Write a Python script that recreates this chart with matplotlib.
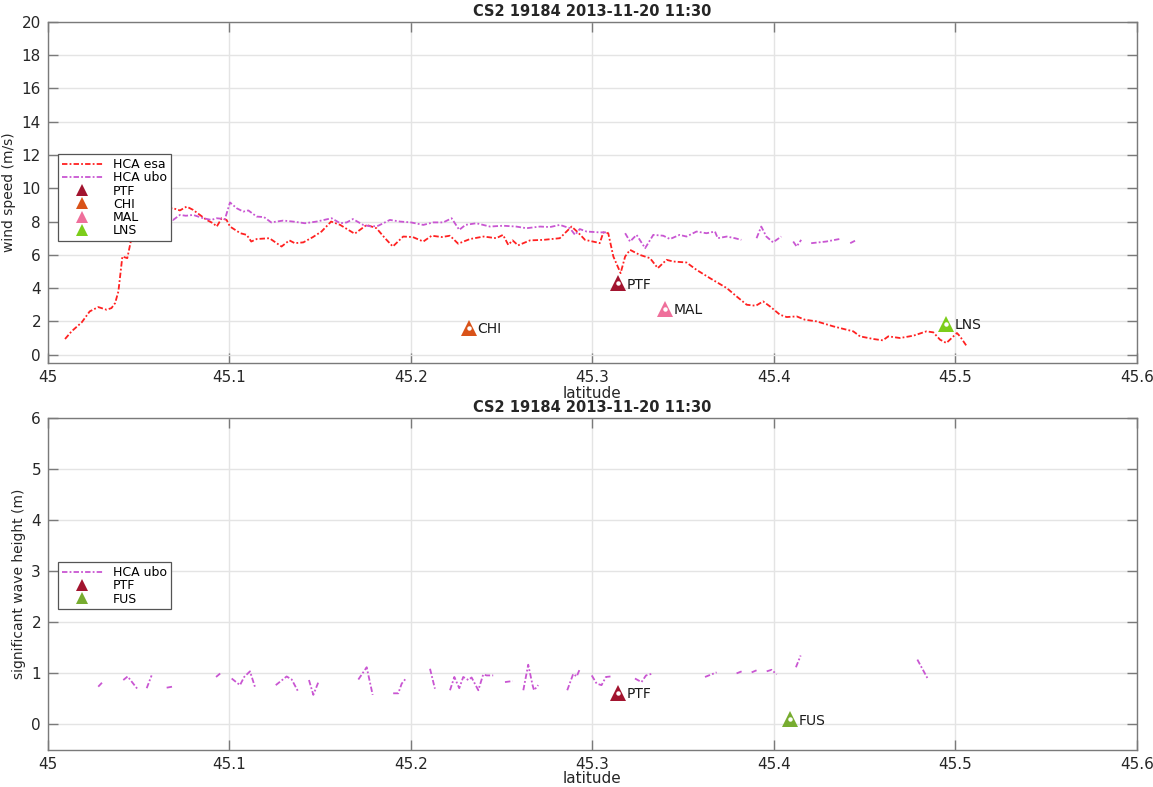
import numpy as np
import matplotlib
matplotlib.use("Agg")
import matplotlib.pyplot as plt

nan = np.nan

TITLE = "CS2 19184 2013-11-20 11:30"

# HCA esa wind speed along track (latitude, m/s)
esa_lat = [45.0094, 45.013, 45.0186, 45.023, 45.0277, 45.0323, 45.035, 45.037, 45.0388,
           45.041, 45.0437, 45.046, 45.048, 45.0507, 45.056, 45.059, 45.0645, 45.069,
           45.0727, 45.0764, 45.08, 45.0837, 45.0874, 45.091, 45.093, 45.0957, 45.0984,
           45.1003, 45.106, 45.1095, 45.112, 45.115, 45.122, 45.1287, 45.133, 45.136,
           45.1407, 45.146, 45.1507, 45.156, 45.161, 45.1655, 45.169, 45.1756, 45.181,
           45.1857, 45.19, 45.1957, 45.201, 45.2068, 45.2114, 45.217, 45.2215, 45.226,
           45.2325, 45.24, 45.247, 45.2507, 45.2536, 45.256, 45.259, 45.2656, 45.273,
           45.282, 45.2857, 45.2885, 45.292, 45.2959, 45.3023, 45.304, 45.306, 45.3087,
           45.3115, 45.3155, 45.318, 45.3207, 45.326, 45.3317, 45.336, 45.3408, 45.3444,
           45.3518, 45.3573, 45.3647, 45.374, 45.3794, 45.385, 45.390, 45.394, 45.3978,
           45.4033, 45.407, 45.4125, 45.417, 45.4235, 45.4327, 45.44, 45.4437, 45.4474,
           45.4548, 45.46, 45.463, 45.4694, 45.4768, 45.484, 45.4878, 45.4915, 45.495,
           45.5008, 45.5025, 45.506]
esa_wind = [0.94, 1.4, 1.94, 2.6, 2.86, 2.7, 2.8, 3.1, 3.8,
            5.9, 5.8, 7.0, 8.1, 8.7, 8.75, 8.8, 8.8, 8.8,
            8.67, 8.9, 8.7, 8.4, 8.1, 7.9, 7.7, 8.2, 8.1,
            7.7, 7.3, 7.2, 6.8, 6.95, 7.0, 6.5, 6.87, 6.7,
            6.75, 7.07, 7.4, 8.0, 7.8, 7.5, 7.27, 7.8, 7.6,
            7.0, 6.5, 7.1, 7.07, 6.8, 7.15, 7.07, 7.15, 6.67,
            6.95, 7.1, 7.0, 7.2, 6.6, 6.87, 6.57, 6.87, 6.9,
            7.0, 7.4, 7.7, 7.35, 6.9, 6.75, 6.7, 7.35, 7.3,
            5.9, 4.9, 5.9, 6.3, 6.0, 5.8, 5.2, 5.7, 5.6,
            5.54, 5.1, 4.6, 4.0, 3.5, 3.0, 2.94, 3.2, 2.9,
            2.4, 2.26, 2.3, 2.1, 2.0, 1.7, 1.5, 1.4, 1.1,
            0.94, 0.86, 1.1, 1.0, 1.14, 1.4, 1.34, 0.9, 0.7,
            1.3, 1.1, 0.54]

# HCA ubo wind speed (gaps where no valid retrieval)
ubo_lat = [45.0516, 45.056, 45.059, 45.0636, 45.066, 45.069, 45.0727, 45.076, 45.08,
           45.0856, 45.09, 45.093, 45.0975, 45.1003, 45.104, 45.1076, 45.1104, 45.115,
           45.119, 45.123, 45.1296, 45.135, 45.1416, 45.148, 45.1563, 45.161, 45.1646,
           45.168, 45.1737, 45.1783, 45.182, 45.1884, 45.194, 45.2, 45.2068, 45.2123,
           45.2178, 45.2224, 45.2266, 45.23, 45.236, 45.2435, 45.2507, 45.258, 45.2636,
           45.2711, 45.2766, 45.282, 45.2876, 45.2904, 45.293, 45.2968, 45.304, 45.3087,
           45.313,
           45.318, 45.3207, 45.3243, 45.329, 45.3335, 45.339, 45.3427, 45.348, 45.3518,
           45.3573, 45.3628, 45.3675, 45.369, 45.374, 45.3785, 45.382,
           45.386,
           45.3904, 45.393, 45.3958, 45.3995, 45.404,
           45.407,
           45.4106, 45.4125, 45.415,
           45.418,
           45.4205, 45.4288, 45.436,
           45.439,
           45.442, 45.4447]
ubo_wind = [8.35, 8.4, 8.5, 8.6, 8.4, 8.1, 8.4, 8.35, 8.4,
            8.2, 8.1, 8.2, 8.15, 9.15, 8.8, 8.6, 8.67, 8.3,
            8.27, 7.95, 8.06, 8.0, 7.9, 8.0, 8.2, 7.9, 7.95,
            8.15, 7.8, 7.7, 7.75, 8.1, 8.0, 7.95, 7.8, 7.95,
            7.95, 8.2, 7.5, 7.8, 7.9, 7.7, 7.75, 7.7, 7.6,
            7.7, 7.67, 7.8, 7.6, 7.2, 7.55, 7.4, 7.35, 7.35,
            nan,
            7.3, 6.8, 7.2, 6.4, 7.2, 7.15, 6.95, 7.2, 7.1,
            7.4, 7.3, 7.4, 7.0, 7.1, 7.0, 6.9,
            nan,
            7.0, 7.7, 7.1, 6.75, 7.1,
            nan,
            6.8, 6.5, 6.9,
            nan,
            6.7, 6.8, 6.95,
            nan,
            6.7, 6.85]

# HCA ubo significant wave height, mostly short fragments
swh_lat = [45.0277, 45.0301, nan,
           45.0415, 45.0439, 45.0494, nan,
           45.0544, 45.0571, nan,
           45.0654, 45.0685, nan,
           45.0926, 45.0953, nan,
           45.1012, 45.1058, 45.1081, 45.1113, 45.114, nan,
           45.1255, 45.1315, 45.1343, 45.1379, nan,
           45.1438, 45.1462, 45.149, nan,
           45.171, 45.1756, 45.1789, nan,
           45.1902, 45.193, 45.1949, 45.1972, nan,
           45.2105, 45.2132, nan,
           45.2215, 45.2239, 45.2266, 45.2288, 45.2316, 45.2334, 45.2371, 45.2398,
           45.2417, 45.2453, nan,
           45.2518, 45.256, nan,
           45.2619, 45.2646, 45.267, 45.2678, 45.2701, nan,
           45.2861, 45.2894, 45.2913, 45.2931, nan,
           45.2996, 45.3023, 45.305, 45.3074, 45.31, nan,
           45.3234, 45.327, 45.3295, 45.3335, nan,
           45.362, 45.3684, nan,
           45.3794, 45.3822, nan,
           45.3877, 45.3904, nan,
           45.396, 45.3987, 45.4015, nan,
           45.4121, 45.4147, nan,
           45.479, 45.4845]
swh = [0.74, 0.83, nan,
       0.87, 0.94, 0.69, nan,
       0.71, 0.96, nan,
       0.72, 0.74, nan,
       0.93, 1.01, nan,
       0.9, 0.77, 0.93, 1.04, 0.74, nan,
       0.77, 0.94, 0.88, 0.64, nan,
       0.87, 0.58, 0.83, nan,
       0.88, 1.12, 0.58, nan,
       0.61, 0.61, 0.80, 0.90, nan,
       1.09, 0.7, nan,
       0.67, 0.93, 0.71, 0.93, 0.87, 0.92, 0.67, 0.98,
       0.96, 0.96, nan,
       0.83, 0.85, nan,
       0.67, 1.17, 0.77, 0.67, 0.77, nan,
       0.67, 0.99, 0.94, 1.09, nan,
       0.96, 0.80, 0.77, 0.93, 0.94, nan,
       0.9, 0.83, 0.96, 1.0, nan,
       0.93, 1.02, nan,
       1.0, 1.04, nan,
       1.02, 1.06, nan,
       1.04, 1.07, 0.98, nan,
       1.12, 1.35, nan,
       1.27, 0.91]

# in-situ stations: name, latitude, value, colour
wind_stations = ["PTF", "CHI", "MAL", "LNS"]
wind_st_lat = [45.314, 45.232, 45.34, 45.495]
wind_st_val = [4.3, 1.6, 2.75, 1.85]
wind_st_col = ["#a2142f", "#d95319", "#ef6f9b", "#7ccd1a"]

wave_stations = ["PTF", "FUS"]
wave_st_lat = [45.314, 45.409]
wave_st_val = [0.62, 0.1]
wave_st_col = ["#a2142f", "#77ac30"]

ESA_COLOR = "#ff2121"
UBO_COLOR = "#c956d2"
AXIS_GREY = "#7a7a7a"
TEXT_GREY = "#262626"
DASHDOT = (0, (3, 1.2, 1, 1.2))


def style_axes(ax, ylim, yticks, ylabel, xlabelpad):
    ax.set_xlim(45, 45.6)
    ax.set_ylim(*ylim)
    ax.set_xticks(np.arange(45, 45.61, 0.1))
    ax.set_xticklabels(["45", "45.1", "45.2", "45.3", "45.4", "45.5", "45.6"])
    ax.set_yticks(yticks)
    ax.grid(True, color="#e4e4e4", linewidth=1.0)
    ax.set_axisbelow(True)
    for sp in ax.spines.values():
        sp.set_color(AXIS_GREY)
        sp.set_linewidth(1.0)
    ax.tick_params(direction="in", length=7, width=1.0, color=AXIS_GREY,
                   labelsize=11, labelcolor=TEXT_GREY, top=True, right=True, pad=5)
    ax.set_xlabel("latitude", fontsize=11, color=TEXT_GREY, labelpad=xlabelpad)
    ax.set_ylabel(ylabel, fontsize=10, color=TEXT_GREY, labelpad=4)
    ax.set_title(TITLE, fontsize=10.5, fontweight="bold", color=TEXT_GREY, pad=4)


def plot_stations(ax, names, lats, vals, cols):
    handles = []
    for name, x, y, c in zip(names, lats, vals, cols):
        h, = ax.plot(x, y, marker="^", markersize=11, color=c, linestyle="none",
                     markeredgewidth=0, label=name, zorder=4)
        ax.plot(x, y, marker="o", markersize=2.2, color="white", linestyle="none", zorder=5)
        ax.annotate(name, (x, y), xytext=(6, -1), textcoords="offset points",
                    fontsize=10, color="#1a1a1a", va="center", ha="left")
        handles.append(h)
    return handles


def add_legend(ax, handles, anchor_y):
    leg = ax.legend(handles=handles, loc="upper left", bbox_to_anchor=(0.009, anchor_y),
                    fontsize=9, frameon=True, fancybox=False, framealpha=1,
                    edgecolor="#555555", borderpad=0.3, labelspacing=0.02,
                    markerscale=0.85, handlelength=3.3, handletextpad=0.8,
                    borderaxespad=0)
    leg.get_frame().set_linewidth(0.9)
    return leg


fig = plt.figure(figsize=(11.53, 7.87), dpi=100)
ax1 = fig.add_axes([0.0416, 0.5388, 0.9445, 0.4333])
ax2 = fig.add_axes([0.0416, 0.0470, 0.9445, 0.4219])

# wind speed panel
l1, = ax1.plot(esa_lat, esa_wind, color=ESA_COLOR, linestyle=DASHDOT,
               linewidth=1.3, label="HCA esa", zorder=3)
l2, = ax1.plot(ubo_lat, ubo_wind, color=UBO_COLOR, linestyle=DASHDOT,
               linewidth=1.3, label="HCA ubo", zorder=3)
h1 = plot_stations(ax1, wind_stations, wind_st_lat, wind_st_val, wind_st_col)
style_axes(ax1, (-0.5, 20), np.arange(0, 21, 2), "wind speed (m/s)", 1)
add_legend(ax1, [l1, l2] + h1, 0.612)

# wave height panel
l3, = ax2.plot(swh_lat, swh, color=UBO_COLOR, linestyle=DASHDOT,
               linewidth=1.3, label="HCA ubo", zorder=3)
h2 = plot_stations(ax2, wave_stations, wave_st_lat, wave_st_val, wave_st_col)
style_axes(ax2, (-0.5, 6), np.arange(0, 7, 1), "significant wave height (m)", -1)
add_legend(ax2, [l3] + h2, 0.565)

fig.savefig("out.png", dpi=100)
